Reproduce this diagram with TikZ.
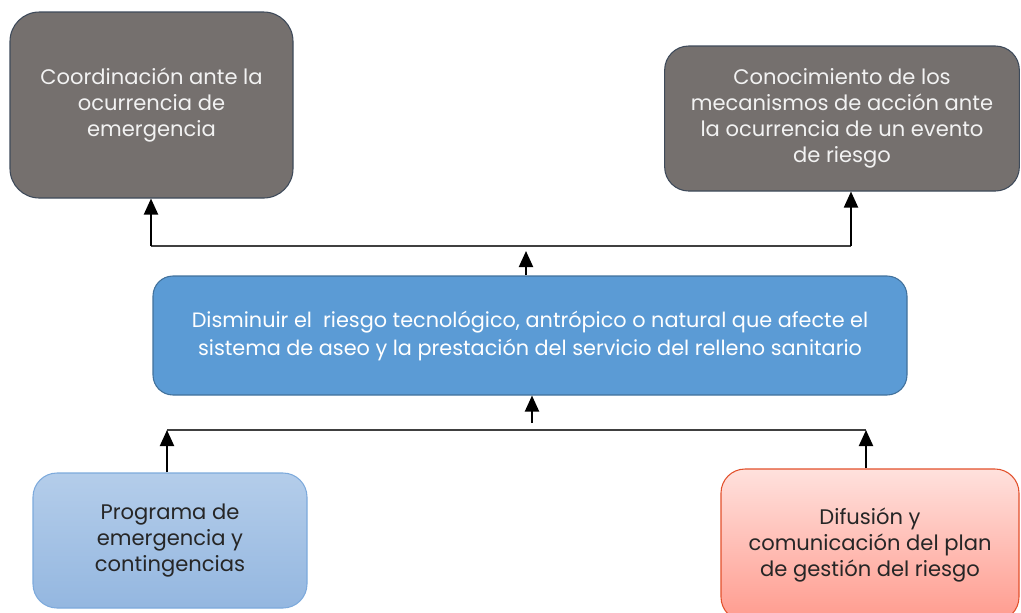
\documentclass[tikz,border=0pt]{standalone}
\usepackage{fontspec}
\setmainfont{Poppins}
\usetikzlibrary{arrows.meta, positioning}

\definecolor{boxgrey}{RGB}{117,112,110}
\definecolor{greyline}{RGB}{62,74,90}
\definecolor{goalblue}{RGB}{91,155,213}
\definecolor{goalline}{RGB}{65,113,156}
\definecolor{lightblueA}{RGB}{180,205,234}
\definecolor{lightblueB}{RGB}{148,183,224}
\definecolor{lightblueline}{RGB}{125,170,220}
\definecolor{pinkA}{RGB}{255,225,221}
\definecolor{pinkB}{RGB}{255,155,142}
\definecolor{redline}{RGB}{226,80,43}

\begin{document}
\begin{tikzpicture}[x=0.75pt, y=-0.75pt,
    box/.style={rectangle, rounded corners=18pt, thick, align=center, inner sep=0pt,
        font=\fontsize{15.8}{19.5}\selectfont},
    effect/.style={box, draw=greyline, fill=boxgrey, text=white!95!black},
    goal/.style={box, draw=goalline, fill=goalblue, text=white, rounded corners=15pt,
        font=\fontsize{15.6}{21}\selectfont},
    cause/.style={box, draw=lightblueline, top color=lightblueA, bottom color=lightblueB, text=black!85},
    causered/.style={box, draw=redline, top color=pinkA, bottom color=pinkB, text=black!85},
    arrow/.style={-{Triangle[length=12pt, width=10.5pt]}, line width=1.5pt, draw=black},
    bar/.style={line width=1pt, draw=black!75}
]
    \useasboundingbox (0,0) rectangle (1021,612);
    \clip (0,0) rectangle (1021,612);

    % effects
    \node[effect, rounded corners=22pt, minimum width=212.25pt, minimum height=139.5pt] (coord) at (151.5,105)
        {Coordinación ante la\\ ocurrencia de\\ emergencia};
    \node[effect, minimum width=266pt, minimum height=108.75pt] (mecan) at (842,118.5)
        {Conocimiento de los\\ mecanismos de acción ante\\ la ocurrencia de un evento\\ de riesgo};

    % objective
    \node[goal, minimum width=565.5pt, minimum height=89.25pt] (obj) at (530,335.5)
        {Disminuir el\ \ riesgo tecnológico, antrópico o natural que afecte el\\ sistema de aseo y la prestación del servicio del relleno sanitario};

    % causes
    \node[cause, minimum width=205.5pt, minimum height=101.25pt] (prog) at (170,540.5)
        {Programa de\\ emergencia y\\ contingencias};
    \node[causered, minimum width=223.5pt, minimum height=114pt] (difu) at (870,545)
        {Difusión y\\ comunicación del plan\\ de gestión del riesgo};

    \coordinate (topL) at (151,246);
    \coordinate (topR) at (851,246);
    \coordinate (upmid) at (526,251);
    \coordinate (botL) at (167,430);
    \coordinate (botR) at (866,430);
    \coordinate (dnmid) at (532,423);

    \draw[bar] (topL) -- (topR);
    \draw[bar] (botL) -- (botR);

    \draw[arrow] (topL) -- (topL |- coord.south);
    \draw[arrow] (topR) -- (topR |- mecan.south);
    \draw[arrow] (upmid |- obj.north) -- (upmid);
    \draw[arrow] (dnmid) -- (dnmid |- obj.south);
    \draw[arrow] (botL |- prog.north) -- (botL);
    \draw[arrow] (botR |- difu.north) -- (botR);
\end{tikzpicture}
\end{document}
